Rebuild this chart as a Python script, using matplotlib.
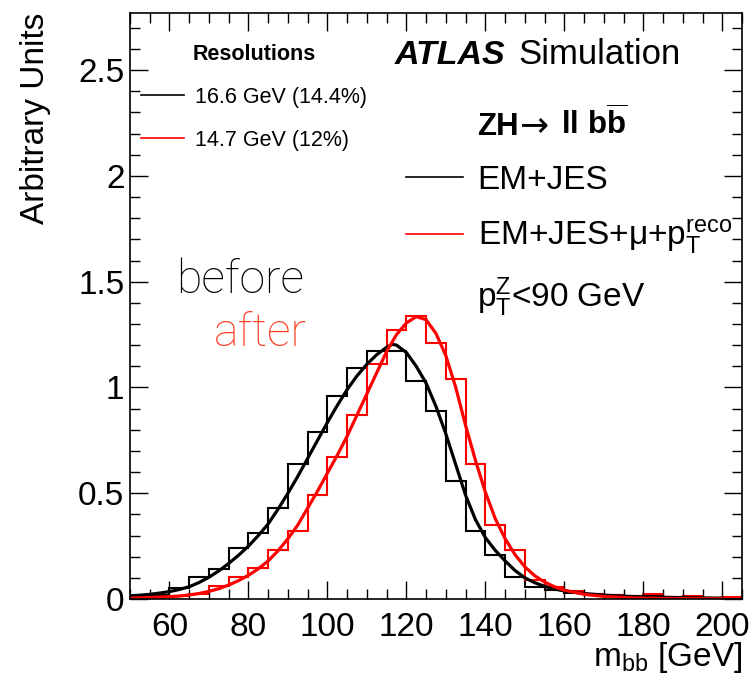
import matplotlib
matplotlib.use('Agg')
import matplotlib.pyplot as plt
from matplotlib.lines import Line2D
from matplotlib.ticker import MultipleLocator

# m_bb histograms, 5 GeV bins from 50 to 205 GeV
bin_edges = list(range(50, 210, 5))
em_jes_hist = [0.014, 0.02, 0.05, 0.105, 0.14, 0.24, 0.31, 0.43, 0.64, 0.79,
               0.96, 1.09, 1.17, 1.17, 1.03, 0.89, 0.56, 0.32, 0.21, 0.105,
               0.058, 0.043, 0.028, 0.024, 0.018, 0.016, 0.012, 0.01, 0.008,
               0.006, 0.005]
reco_hist = [0.005, 0.01, 0.015, 0.025, 0.06, 0.105, 0.145, 0.23, 0.32, 0.49,
             0.67, 0.87, 1.11, 1.27, 1.34, 1.21, 1.04, 0.64, 0.35, 0.23,
             0.09, 0.055, 0.04, 0.024, 0.019, 0.014, 0.022, 0.008, 0.015,
             0.006, 0.01]

# fitted curves
em_jes_fit_x = [50, 52.5, 55, 57.5, 60, 62.5, 65, 67.5, 70, 72.5, 75, 77.5,
                80, 82.5, 85, 87.5, 90, 92.5, 95, 97.5, 100, 102.5, 105, 107.5,
                110, 112.5, 115, 116.5, 117.5, 120, 122.5, 125, 127.5, 130,
                132.5, 135, 137.5, 140, 142.5, 145, 147.5, 150, 152.5, 155,
                157.5, 160, 165, 170, 175, 180, 185, 190, 195, 200]
em_jes_fit_y = [0.015, 0.018, 0.022, 0.028, 0.035, 0.045, 0.058, 0.078, 0.103,
                0.133, 0.168, 0.207, 0.25, 0.30, 0.355, 0.425, 0.50, 0.58,
                0.665, 0.75, 0.835, 0.915, 0.99, 1.055, 1.11, 1.155, 1.19,
                1.204, 1.20, 1.165, 1.10, 1.02, 0.91, 0.78, 0.635, 0.49, 0.375,
                0.29, 0.23, 0.18, 0.135, 0.10, 0.077, 0.06, 0.047, 0.038,
                0.026, 0.018, 0.013, 0.01, 0.008, 0.006, 0.005, 0.004]
reco_fit_x = [50, 55, 60, 62.5, 65, 67.5, 70, 72.5, 75, 77.5, 80, 82.5, 85,
              87.5, 90, 92.5, 95, 97.5, 100, 102.5, 105, 107.5, 110, 112.5,
              115, 117.5, 120, 122.5, 125, 127.5, 130, 132.5, 135, 137.5, 140,
              142.5, 145, 147.5, 150, 152.5, 155, 157.5, 160, 165, 170, 175,
              180, 190, 200]
reco_fit_y = [0.004, 0.007, 0.011, 0.014, 0.019, 0.026, 0.036, 0.049, 0.066,
              0.087, 0.112, 0.143, 0.18, 0.228, 0.285, 0.35, 0.43, 0.51,
              0.595, 0.68, 0.77, 0.87, 0.97, 1.07, 1.17, 1.25, 1.305, 1.335,
              1.32, 1.255, 1.15, 1.0, 0.82, 0.655, 0.505, 0.38, 0.285, 0.21,
              0.152, 0.11, 0.08, 0.058, 0.042, 0.022, 0.012, 0.007, 0.004,
              0.002, 0.001]

resolution_labels = ['16.6 GeV (14.4%)', '14.7 GeV (12%)']
series_labels = ['EM+JES', 'EM+JES+\u03bc+p$_{\\rm T}^{\\rm reco}$']
colors = ['black', '#ff0000']

W, H = 749, 676


def fx(px):
    return px / W


def fy(py):
    return 1 - py / H


def main():
    plt.rcParams['font.family'] = ['Liberation Sans', 'DejaVu Sans']
    plt.rcParams['mathtext.fontset'] = 'custom'
    plt.rcParams['mathtext.rm'] = 'Liberation Sans'
    plt.rcParams['mathtext.it'] = 'Liberation Sans:italic'
    plt.rcParams['mathtext.bf'] = 'Liberation Sans:bold'

    fig = plt.figure(figsize=(W / 100, H / 100), dpi=100)
    ax = fig.add_axes([fx(130), fy(599), fx(742) - fx(130), fy(13) - fy(599)])

    ax.stairs(em_jes_hist, bin_edges, baseline=None, color=colors[0], lw=1.5)
    ax.stairs(reco_hist, bin_edges, baseline=None, color=colors[1], lw=1.5)
    ax.plot(em_jes_fit_x, em_jes_fit_y, color=colors[0], lw=2.3)
    ax.plot(reco_fit_x, reco_fit_y, color=colors[1], lw=2.3)

    ax.set_xlim(50, 205)
    ax.set_ylim(0, 2.77)
    ax.xaxis.set_major_locator(MultipleLocator(20))
    ax.xaxis.set_minor_locator(MultipleLocator(5))
    ax.yaxis.set_major_locator(MultipleLocator(0.5))
    ax.yaxis.set_minor_locator(MultipleLocator(0.1))
    ax.set_yticks([0, 0.5, 1, 1.5, 2, 2.5])
    ax.set_yticklabels(['0', '0.5', '1', '1.5', '2', '2.5'])
    ax.tick_params(which='both', direction='in', top=True, right=True,
                   width=1, labelsize=24)
    ax.tick_params(which='major', length=13)
    ax.tick_params(which='minor', length=7)
    ax.tick_params(axis='x', pad=9)
    ax.tick_params(axis='y', pad=4)
    for sp in ax.spines.values():
        sp.set_linewidth(1.2)

    ax.set_xlabel('m$_{\\rm bb}$ [GeV]', fontsize=24, loc='right')
    ax.xaxis.set_label_coords(1.0, -0.07)
    ax.set_ylabel('Arbitrary Units', fontsize=24, loc='top')
    ax.yaxis.set_label_coords(-0.129, 1.0)

    # resolution legend
    res_handles = [Line2D([], [], color=c, lw=1.2) for c in colors]
    leg1 = ax.legend(res_handles, resolution_labels, loc='upper left',
                     bbox_to_anchor=(fx(141), fy(44)),
                     bbox_transform=fig.transFigure, frameon=False,
                     fontsize=15.5, title='Resolutions',
                     title_fontproperties={'weight': 'bold', 'size': 15.5},
                     handlelength=2.0, handletextpad=0.5, labelspacing=1.02,
                     borderpad=0, borderaxespad=0)
    ax.add_artist(leg1)

    # series legend
    ser_handles = [Line2D([], [], color=c, lw=1.2) for c in colors]
    ax.legend(ser_handles, series_labels, loc='upper left',
              bbox_to_anchor=(fx(406), fy(165)),
              bbox_transform=fig.transFigure, frameon=False, fontsize=24,
              handlelength=1.7, handletextpad=0.45, labelspacing=0.65,
              borderpad=0, borderaxespad=0)

    fig.text(fx(395), fy(64), 'ATLAS', fontsize=24.5, fontweight='bold',
             fontstyle='italic', va='baseline')
    fig.text(fx(518), fy(64), 'Simulation', fontsize=25, va='baseline')

    # ZH -> ll bb~ process label
    fig.text(fx(477), fy(135), 'ZH', fontsize=22.5, fontweight='bold',
             va='baseline')
    fig.text(fx(519), fy(135), '\u2192', fontsize=25, family='DejaVu Sans',
             va='baseline')
    fig.text(fx(561), fy(135), 'll b$\\overline{\\mathbf{b}}$',
             fontsize=22.5, fontweight='bold', va='baseline')

    fig.text(fx(477), fy(307), 'p$_{\\rm T}^{\\rm Z}$<90 GeV', fontsize=24,
             va='baseline')
    fig.text(fx(176), fy(293), 'before', fontsize=33.5, color='black',
             family=['Roboto', 'Liberation Sans'], fontweight='light',
             va='baseline')
    fig.text(fx(214), fy(346), 'after', fontsize=33.5, color='#ff3b1f',
             family=['Roboto', 'Liberation Sans'], fontweight='light',
             va='baseline')

    fig.savefig('out.png', dpi=100)


if __name__ == '__main__':
    main()
